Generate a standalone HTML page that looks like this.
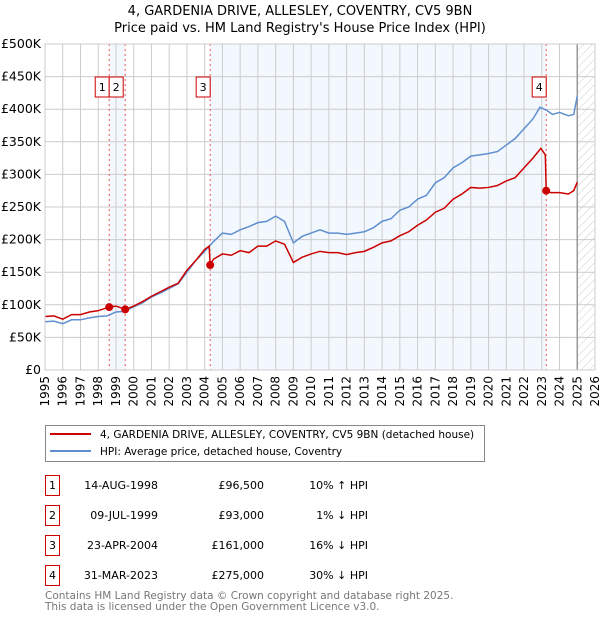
<!DOCTYPE html>
<html><head><meta charset="utf-8"><style>
body{margin:0;background:#fff;}
svg text{font-family:"DejaVu Sans","Liberation Sans",sans-serif;}
</style></head><body>
<svg id="c" width="600" height="620" xmlns="http://www.w3.org/2000/svg">
<text x="300" y="15" text-anchor="middle" font-size="13" fill="#000">4, GARDENIA DRIVE, ALLESLEY, COVENTRY, CV5 9BN</text>
<text x="300" y="32" text-anchor="middle" font-size="13" fill="#000">Price paid vs. HM Land Registry's House Price Index (HPI)</text>
<defs><pattern id="hatch" width="6" height="6" patternUnits="userSpaceOnUse" patternTransform="rotate(45)"><line x1="0" y1="0" x2="0" y2="6" stroke="#ccc" stroke-width="1"/></pattern></defs>
<g id="plot"></g>
<g id="legend">
<rect x="45.5" y="425.5" width="439" height="36" fill="#fff" stroke="#888"/>
<line x1="50" y1="434" x2="91" y2="434" stroke="#cc0000" stroke-width="2"/>
<text x="100" y="438" font-size="10.5">4, GARDENIA DRIVE, ALLESLEY, COVENTRY, CV5 9BN (detached house)</text>
<line x1="50" y1="451" x2="91" y2="451" stroke="#5f8fd0" stroke-width="2"/>
<text x="100" y="455" font-size="10.5">HPI: Average price, detached house, Coventry</text>
</g>
<g id="table" font-size="11"></g>
<text x="45" y="599" font-size="10.5" fill="#777">Contains HM Land Registry data © Crown copyright and database right 2025.</text>
<text x="45" y="610" font-size="10.5" fill="#777">This data is licensed under the Open Government Licence v3.0.</text>
</svg>
<script>
const hpiYears=[1995,1995.5,1996,1996.5,1997,1997.5,1998,1998.5,1999,1999.5,2000,2000.5,2001,2001.5,2002,2002.5,2003,2003.5,2004,2004.5,2005,2005.5,2006,2006.5,2007,2007.5,2008,2008.5,2009,2009.5,2010,2010.5,2011,2011.5,2012,2012.5,2013,2013.5,2014,2014.5,2015,2015.5,2016,2016.5,2017,2017.5,2018,2018.5,2019,2019.5,2020,2020.5,2021,2021.5,2022,2022.5,2022.9,2023.3,2023.6,2024,2024.5,2024.8,2025];
const hpiValues=[74,75,71,77,77,80,82,83,89,90,97,103,112,118,125,132,150,168,182,197,210,208,215,220,226,228,236,228,195,205,210,215,210,210,208,210,212,218,228,232,245,250,262,268,287,295,310,318,328,330,332,335,345,355,370,385,403,398,392,395,390,392,420];
const propYears=[1995,1995.5,1996,1996.5,1997,1997.5,1998,1998.62,1999,1999.52,2000,2000.5,2001,2001.5,2002,2002.5,2003,2003.5,2004,2004.25,2004.31,2004.5,2005,2005.5,2006,2006.5,2007,2007.5,2008,2008.5,2009,2009.5,2010,2010.5,2011,2011.5,2012,2012.5,2013,2013.5,2014,2014.5,2015,2015.5,2016,2016.5,2017,2017.5,2018,2018.5,2019,2019.5,2020,2020.5,2021,2021.5,2022,2022.5,2022.95,2023.2,2023.25,2023.5,2024,2024.5,2024.8,2025];
const propValues=[82,83,78,85,85,89,91,96.5,98,93,98,105,113,120,127,133,153,168,185,190,161,170,178,176,183,180,190,190,198,193,165,173,178,182,180,180,177,180,182,188,195,198,206,212,222,230,242,248,262,270,280,279,280,283,290,295,310,325,340,330,275,272,272,270,275,288];
const saleLabels=["1","2","3","4"];
const saleYears=[1998.62,1999.52,2004.31,2023.25];
const salePrices=[96.5,93,161,275];
const saleDates=["14-AUG-1998","09-JUL-1999","23-APR-2004","31-MAR-2023"];
const salePriceText=["£96,500","£93,000","£161,000","£275,000"];
const saleHpiText=["10% ↑ HPI","1% ↓ HPI","16% ↓ HPI","30% ↓ HPI"];
const yTicks=[0,50,100,150,200,250,300,350,400,450,500];
const yTickLabels=["£0","£50K","£100K","£150K","£200K","£250K","£300K","£350K","£400K","£450K","£500K"];
const xTicks=[1995,1996,1997,1998,1999,2000,2001,2002,2003,2004,2005,2006,2007,2008,2009,2010,2011,2012,2013,2014,2015,2016,2017,2018,2019,2020,2021,2022,2023,2024,2025,2026];

const X0=45,X1=595,Y0=370,Y1=44;
const xs=y=>X0+(y-1995)/(2026-1995)*(X1-X0);
const ys=v=>Y0-v/500*(Y0-Y1);
const NS="http://www.w3.org/2000/svg";
const plot=document.getElementById('plot');
function mk(tag,attrs,parent){const e=document.createElementNS(NS,tag);for(const k in attrs)e.setAttribute(k,attrs[k]);(parent||plot).appendChild(e);return e;}

let r;
r=mk('rect',{x:xs(saleYears[0]),y:Y1,width:xs(saleYears[1])-xs(saleYears[0]),height:Y0-Y1,fill:'#eef3fd',opacity:0.7});


r=mk('rect',{x:xs(saleYears[2]),y:Y1,width:xs(saleYears[3])-xs(saleYears[2]),height:Y0-Y1,fill:'#eef3fd',opacity:0.7});


r=mk('rect',{x:xs(2025),y:Y1,width:xs(2026)-xs(2025),height:Y0-Y1,fill:'url(#hatch)'});



yTicks.forEach((t,i)=>{
  const l=mk('line',{x1:X0,x2:X1,y1:ys(t),y2:ys(t),stroke:'#ccc','stroke-width':1});
  
  
  const tx=mk('text',{x:X0-4,y:ys(t)+4,'text-anchor':'end','font-size':12.5});
  tx.textContent=yTickLabels[i];
  
  
});
xTicks.forEach(t=>{
  const l=mk('line',{x1:xs(t),x2:xs(t),y1:Y1,y2:Y0,stroke:'#ccc','stroke-width':1});
  
  
  const tx=mk('text',{x:0,y:0,'text-anchor':'end','font-size':12,transform:`translate(${xs(t)+4},${Y0+6}) rotate(-90)`});
  tx.textContent=t;
  
  
});
const vl=mk('line',{x1:xs(2025),x2:xs(2025),y1:Y1,y2:Y0,stroke:'#999','stroke-width':1.5});



saleYears.forEach((y,i)=>{
  const l=mk('line',{x1:xs(y),x2:xs(y),y1:Y1,y2:Y0,stroke:'#e55','stroke-width':1,'stroke-dasharray':'2,3'});
  
  
});

const hp=mk('polyline',{points:hpiYears.map((y,i)=>xs(y)+','+ys(hpiValues[i])).join(' '),fill:'none',stroke:'#5f8fd0','stroke-width':1.5});


const pp=mk('polyline',{points:propYears.map((y,i)=>xs(y)+','+ys(propValues[i])).join(' '),fill:'none',stroke:'#cc0000','stroke-width':1.5});



saleYears.forEach((y,i)=>{
  const c=mk('circle',{cx:xs(y),cy:ys(salePrices[i]),r:4,fill:'#cc0000'});
  
  
  const g=mk('g',{});
  
  
  const lx=i==0?xs(y)-3:i==1?xs(y)-5:xs(y)-3;
  mk('rect',{x:lx-11,y:77,width:14,height:20,fill:'#fff',stroke:'#cc0000','stroke-width':1},g);
  const t=mk('text',{x:lx-4,y:91,'text-anchor':'middle','font-size':11},g);
  t.textContent=saleLabels[i];
});
const bd=mk('rect',{x:X0,y:Y1,width:X1-X0,height:Y0-Y1,fill:'none',stroke:'#ccc'});



const tb=document.getElementById('table');
saleLabels.forEach((s,i)=>{
  const yy=475+i*30;
  const row=mk('g',{},tb);
  
  
  mk('rect',{x:45.5,y:yy+0.5,width:14,height:20,fill:'#fff',stroke:'#cc0000'},row);
  let t=mk('text',{x:52.5,y:yy+14,'text-anchor':'middle'},row);t.textContent=s;
  t=mk('text',{x:158,y:yy+14,'text-anchor':'end'},row);t.textContent=saleDates[i];
  t=mk('text',{x:264,y:yy+14,'text-anchor':'end'},row);t.textContent=salePriceText[i];
  t=mk('text',{x:368,y:yy+14,'text-anchor':'end'},row);t.textContent=saleHpiText[i];
});
</script>
</body></html>
